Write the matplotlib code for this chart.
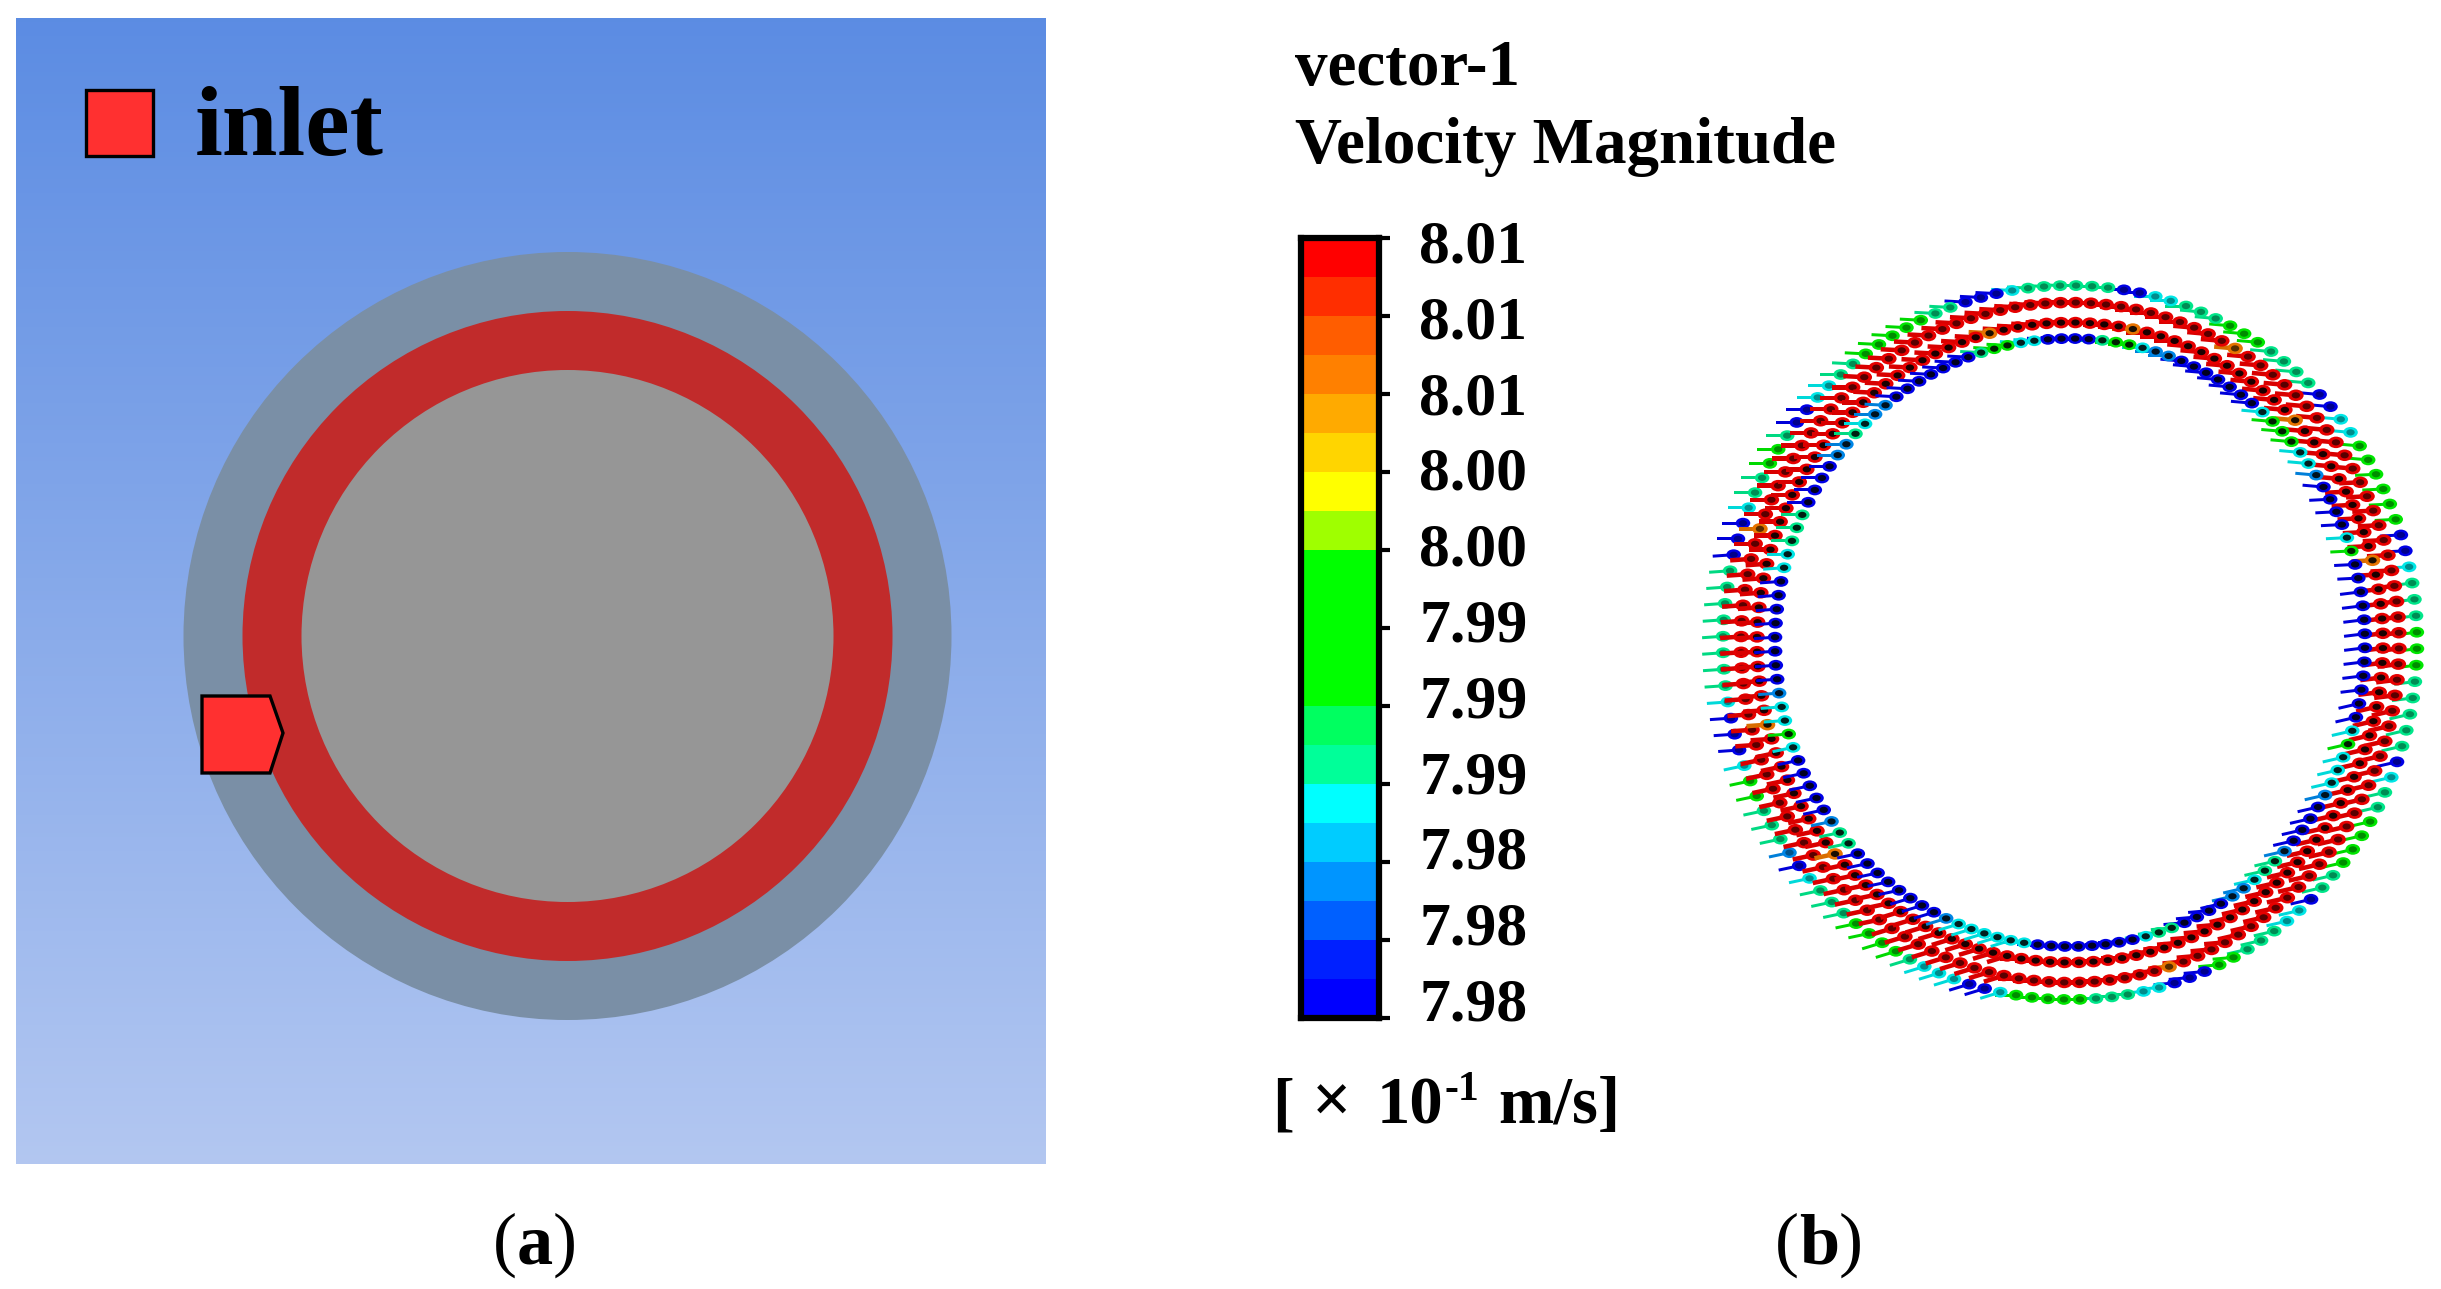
import numpy as np
import matplotlib
matplotlib.use('Agg')
import matplotlib.pyplot as plt
from matplotlib.colors import ListedColormap
from matplotlib.patches import Circle, Polygon, Rectangle
from matplotlib.path import Path
from matplotlib.transforms import Affine2D, ScaledTranslation

W, H = 2441, 1289
SERIF = 'Liberation Serif'

# colour bar, top to bottom
band_colors = ['#ff0000', '#ff2e00', '#ff5d00', '#ff8000', '#ffaa00', '#ffd500', '#ffff00',
               '#9fff00', '#00ff00', '#00ff00', '#00ff00', '#00ff00', '#00ff60', '#00ff99',
               '#00ffff', '#00ccff', '#0095ff', '#0060ff', '#0020ff', '#0000ff']
tick_labels = ['8.01', '8.01', '8.01', '8.00', '8.00', '7.99', '7.99', '7.99', '7.98', '7.98', '7.98']

# band numbers used in the ring (index into band_colors)
RED, ORANGE, GREEN, TEAL, CYAN, SKY, BLUE = 0, 3, 11, 13, 14, 16, 19

# velocity band around the ring: sector end (deg clockwise from top), band
outer_end = [8, 13, 17, 26, 33, 44, 50, 56, 70, 72, 77, 80, 86, 96, 107, 112, 114, 120, 130, 134,
             138, 142, 150, 157, 164, 168, 176, 190, 193, 198, 206, 208, 220, 226, 230, 233, 235,
             243, 249, 252, 258, 261, 284, 290, 293, 299, 304, 308, 312, 316, 322, 335, 342, 348, 352, 360]
outer_band = [TEAL, BLUE, CYAN, TEAL, GREEN, TEAL, BLUE, CYAN, GREEN, TEAL, BLUE, CYAN, TEAL, GREEN, TEAL,
              BLUE, CYAN, TEAL, GREEN, TEAL, BLUE, CYAN, TEAL, GREEN, BLUE, CYAN, TEAL, GREEN, CYAN, BLUE,
              CYAN, TEAL, GREEN, TEAL, CYAN, BLUE, SKY, TEAL, GREEN, CYAN, BLUE, CYAN, TEAL, BLUE, CYAN,
              TEAL, GREEN, TEAL, BLUE, CYAN, TEAL, GREEN, TEAL, BLUE, CYAN, TEAL]
mid1_end = [29, 32, 136, 138, 161, 163, 287, 290, 360]
mid1_band = [RED, ORANGE, RED, ORANGE, RED, ORANGE, RED, ORANGE, RED]
mid2_end = [10, 12, 45, 47, 74, 76, 228, 230, 254, 256, 345, 347, 360]
mid2_band = [RED, ORANGE, RED, ORANGE, RED, ORANGE, RED, ORANGE, RED, ORANGE, RED, ORANGE, RED]
inner_end = [5, 8, 12, 15, 20, 40, 43, 50, 54, 59, 68, 71, 75, 105, 108, 112, 118, 121, 131, 134, 140,
             143, 147, 158, 163, 166, 188, 203, 207, 226, 232, 236, 249, 252, 255, 258, 262, 282, 289,
             296, 308, 311, 315, 318, 322, 341, 345, 350, 354, 360]
inner_band = [BLUE, TEAL, GREEN, CYAN, SKY, BLUE, CYAN, GREEN, CYAN, SKY, BLUE, CYAN, GREEN, BLUE, CYAN,
              GREEN, CYAN, SKY, BLUE, SKY, TEAL, CYAN, SKY, BLUE, TEAL, CYAN, BLUE, CYAN, SKY, BLUE, TEAL,
              SKY, BLUE, CYAN, GREEN, CYAN, SKY, BLUE, CYAN, TEAL, BLUE, SKY, TEAL, CYAN, SKY, BLUE, TEAL,
              GREEN, CYAN, BLUE]

# arrow tilt in degrees above horizontal: sector end, tilt
tilt_end = [20, 60, 80, 100, 150, 170, 190, 215, 250, 285, 320, 360]
tilt_deg = [0, -5, 3, 7, 13, 5, 0, 17, 12, 4, 0, -3]

layers = [(outer_end, outer_band), (mid1_end, mid1_band), (mid2_end, mid2_band), (inner_end, inner_band)]

RING_CX, RING_CY = 2070, 642.5
RING_RX = [347, 329, 313, 295]
RING_RY = [357, 340, 320, 304]
CORE_DARK = [0.55, 0.35, 0.1, 0.12]
HEAD_SIZE = [110, 125, 125, 110]
TAIL_W = [3, 4.5, 4.5, 3]
N_ARROWS = 136
TAIL = 21

head = Path.unit_circle().transformed(Affine2D().scale(1.35, 1))


def sector_lookup(az, ends, vals):
    return np.array(vals)[np.searchsorted(ends, az, side='left').clip(0, len(vals) - 1)]


fig = plt.figure(figsize=(W / 100, H / 100), dpi=100)
ax = fig.add_axes([0, 0, 1, 1])
ax.set_xlim(0, W)
ax.set_ylim(H, 0)
ax.axis('off')

# panel a
grad = np.linspace(0, 1, 256)[:, None, None] * (np.array([0.70, 0.78, 0.945]) - np.array([0.36, 0.55, 0.89])) \
    + np.array([0.36, 0.55, 0.89])
ax.imshow(grad, extent=(16, 1046, 1164, 18), aspect='auto', zorder=1)
ax.set_xlim(0, W)
ax.set_ylim(H, 0)
ax.add_patch(Circle((567.5, 636), 384, fc='#7a8fa6', ec='none', zorder=2))
ax.add_patch(Circle((567.5, 636), 325, fc='#c12b2b', ec='none', zorder=3))
ax.add_patch(Circle((567.5, 636), 266, fc='#969696', ec='none', zorder=4))
ax.add_patch(Polygon([(202, 696), (270, 696), (283, 733), (270, 773), (202, 773)],
                     fc='#ff3030', ec='black', lw=2.4, zorder=5))
ax.add_patch(Rectangle((86, 90), 67, 66, fc='#ff3030', ec='black', lw=2.4, zorder=5))
ax.text(195, 155, 'inlet', family=SERIF, weight='bold', fontsize=72, va='baseline', zorder=6)

# panel b, vector ring
az = np.arange(N_ARROWS) * 360.0 / N_ARROWS + 1.0
for i, (ends, bands) in enumerate(layers):
    t = np.radians(az)
    x = RING_CX + RING_RX[i] * np.sin(t)
    y = RING_CY - RING_RY[i] * np.cos(t)
    band = sector_lookup(az, ends, bands)
    cols = np.array([matplotlib.colors.to_rgb(band_colors[b]) for b in band])
    tilt = np.radians(sector_lookup(az, tilt_end, tilt_deg))
    ax.quiver(x, y, TAIL * np.cos(tilt), -TAIL * np.sin(tilt), color=cols * 0.85, angles='xy', scale_units='xy',
              scale=1, pivot='tip', units='xy', width=TAIL_W[i], headwidth=1, headlength=0, headaxislength=0,
              zorder=7 + i)
    ax.scatter(x, y, s=HEAD_SIZE[i], marker=head, c=cols * 0.9, linewidths=0, zorder=7 + i)
    ax.scatter(x, y, s=36, marker=head, c=cols * CORE_DARK[i], linewidths=0, zorder=7 + i)

# headings
ax.text(1295, 85, 'vector-1', family=SERIF, weight='bold', fontsize=46.8, va='baseline')
ax.text(1295, 163, 'Velocity Magnitude', family=SERIF, weight='bold', fontsize=46.8, va='baseline')

# unit label
ax.text(1272, 1123, '[', family=SERIF, weight='bold', fontsize=47, va='baseline')
ax.text(1312, 1123, '\u00d7', family=SERIF, weight='bold', fontsize=50, va='baseline')
ax.text(1377, 1123, '10', family=SERIF, weight='bold', fontsize=48, va='baseline')
ax.text(1445, 1100, '-1', family=SERIF, weight='bold', fontsize=30, va='baseline')
ax.text(1498, 1123, 'm/s]', family=SERIF, weight='bold', fontsize=48, va='baseline')

# panel labels
for x0, letter, x1, x2 in [(493, 'a', 517, 553), (1775, 'b', 1799, 1839)]:
    ax.text(x0, 1263, '(', family=SERIF, fontsize=52, va='baseline')
    ax.text(x1, 1263, letter, family=SERIF, weight='bold', fontsize=52, va='baseline')
    ax.text(x2, 1263, ')', family=SERIF, fontsize=52, va='baseline')

# colour bar
cb_l, cb_r, cb_t, cb_b = 1301, 1379, 238, 1018
cax = fig.add_axes([cb_l / W, 1 - cb_b / H, (cb_r - cb_l) / W, (cb_b - cb_t) / H])
cax.imshow(np.arange(len(band_colors))[:, None], cmap=ListedColormap(band_colors), aspect='auto',
           interpolation='nearest', extent=(0, 1, 10, 0))
cax.set_xticks([])
cax.set_yticks(np.arange(len(tick_labels)))
cax.set_yticklabels(tick_labels, family=SERIF, weight='bold', fontsize=44.5)
cax.yaxis.tick_right()
cax.tick_params(axis='y', length=8, width=3, pad=21, colors='black')
for s in cax.spines.values():
    s.set_linewidth(4.5)
# label spacing in the source is a bit tighter than the tick spacing
for i, lab in enumerate(cax.get_yticklabels()):
    offset = ScaledTranslation(0, (2.2 * i - 3) / 100, fig.dpi_scale_trans)
    lab.set_transform(lab.get_transform() + offset)

fig.savefig('out.png', dpi=100)
